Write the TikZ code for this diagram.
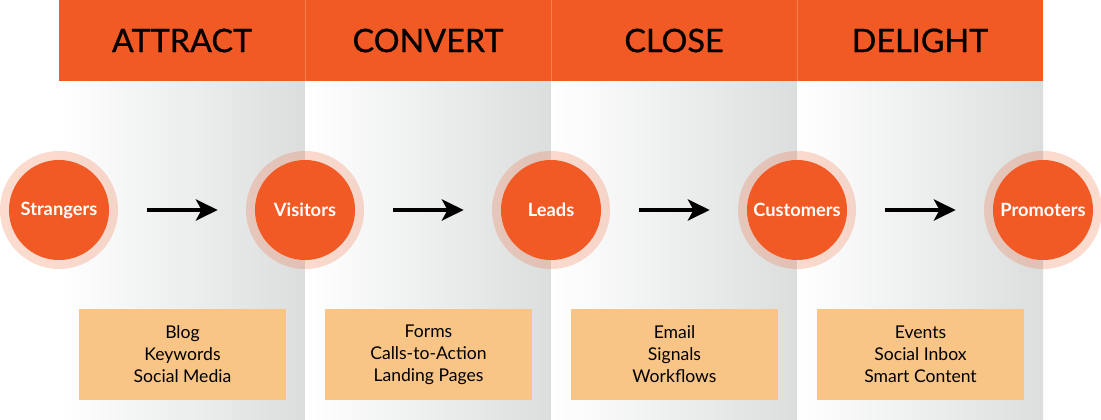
\documentclass[tikz,border=0pt]{standalone}
\usepackage{fontspec}
\setmainfont{Lato}
\newfontfamily\headfont[FakeBold=0.7]{Lato}
\usetikzlibrary{arrows.meta}

\definecolor{hsOrange}{RGB}{241,90,36}
\definecolor{hsPeach}{RGB}{248,197,135}
\definecolor{hsGrey}{RGB}{220,222,222}
\definecolor{hsLine}{RGB}{247,128,78}

\tikzset{
  header/.style={fill=hsOrange, minimum width=6.15cm, minimum height=2.025cm, inner sep=0pt, font=\headfont\fontsize{23}{28}\selectfont},
  column/.style={left color=white, right color=hsGrey},
  ring/.style={circle, fill=hsOrange, fill opacity=0.22, minimum size=2.95cm, inner sep=0pt},
  stage/.style={circle, fill=hsOrange, text=white, minimum size=2.5cm, inner sep=0pt, font=\bfseries\fontsize{13}{16}\selectfont},
  tools/.style={fill=hsPeach, minimum width=5.175cm, minimum height=2.275cm, inner sep=0pt, align=center, font=\fontsize{12.5}{15.6}\selectfont},
  flow/.style={-{Stealth[length=15.5pt,width=15pt,inset=4pt]}, line width=2.8pt, shorten <=0.95cm, shorten >=0.925cm}
}

\begin{document}
\begin{tikzpicture}[x=0.025cm, y=-0.025cm]
			\useasboundingbox (0,0) rectangle (1101,420);

			% grey columns
			\shade[column] (59,81) rectangle (305,420);
			\shade[column] (305,81) rectangle (551,420);
			\shade[column] (551,81) rectangle (797,420);
			\shade[column] (797,81) rectangle (1043,420);

			\begin{scope}[every node/.style=header]
				\node (attract) at (182,40.5) {ATTRACT};
				\node (convert) at (428,40.5) {CONVERT};
				\node (close) at (674,40.5) {CLOSE};
				\node (delight) at (920,40.5) {DELIGHT};
			\end{scope}
			\draw[hsLine, line width=0.5pt] (attract.north east) -- (attract.south east);
			\draw[hsLine, line width=0.5pt] (convert.north east) -- (convert.south east);
			\draw[hsLine, line width=0.5pt] (close.north east) -- (close.south east);

			\begin{scope}[every node/.style=ring]
				\node (strangersRing) at (59,210) {};
				\node (visitorsRing) at (305,210) {};
				\node (leadsRing) at (551,210) {};
				\node (customersRing) at (797,210) {};
				\node (promotersRing) at (1043,210) {};
			\end{scope}

			\begin{scope}[every node/.style=stage]
				\node (strangers) at (59,210) {Strangers};
				\node (visitors) at (305,210) {Visitors};
				\node (leads) at (551,210) {Leads};
				\node (customers) at (797,210) {Customers};
				\node (promoters) at (1043,210) {Promoters};
			\end{scope}

			\begin{scope}[every edge/.style={draw=black, flow}]
				\path (strangers) edge (visitors);
				\path (visitors) edge (leads);
				\path (leads) edge (customers);
				\path (customers) edge (promoters);
			\end{scope}

			\begin{scope}[every node/.style=tools]
				\node (attractTools) at (182.5,354.5) {Blog\\Keywords\\Social Media};
				\node (convertTools) at (428.5,354.5) {Forms\\Calls-to-Action\\Landing Pages};
				\node (closeTools) at (674.5,354.5) {Email\\Signals\\Workflows};
				\node (delightTools) at (920.5,354.5) {Events\\Social Inbox\\Smart Content};
			\end{scope}
		\end{tikzpicture}
\end{document}
